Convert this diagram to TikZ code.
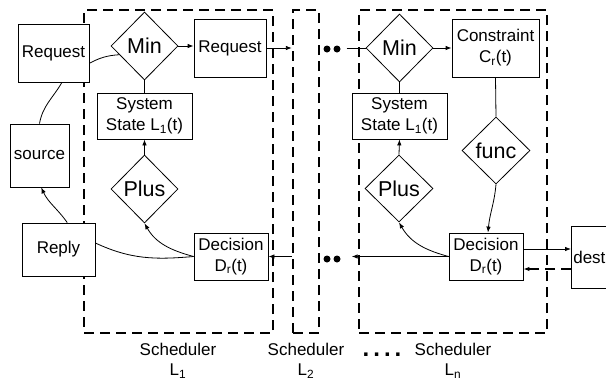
\documentclass[tikz,border=0pt]{standalone}
\usepackage{fontspec}
\setmainfont{Liberation Sans}
\usetikzlibrary{shapes.geometric,arrows.meta}
\tikzset{
  box/.style={draw, fill=white, line width=0.8pt, inner sep=0pt, align=center, font=\fontsize{17}{21}\selectfont},
  dia/.style={draw, fill=white, diamond, line width=0.8pt, inner sep=0pt, minimum width=67pt, minimum height=68pt, font=\fontsize{21.5}{24}\selectfont},
  schbox/.style={draw, line width=2.3pt, dash pattern=on 10pt off 6pt, inner sep=0pt},
  conn/.style={line width=0.8pt},
  arr/.style={line width=0.8pt, -{Latex[length=6pt,width=4.5pt]}},
  dot/.style={circle, fill, inner sep=0pt, minimum size=7pt},
  lab/.style={align=center, font=\fontsize{17}{20}\selectfont}
}
\begin{document}
\begin{tikzpicture}[x=1pt,y=1pt]
\path[use as bounding box, clip] (0,0) rectangle (606,-383);
% scheduler boxes
\node[schbox, minimum width=189pt, minimum height=323pt] (sch1) at (178.5,-171.5) {};
\node[schbox, minimum width=26pt, minimum height=323pt] (sch2) at (306,-171.5) {};
\node[schbox, minimum width=188pt, minimum height=323pt] (schn) at (453,-171.5) {};
% left outside
\node[box, minimum width=71pt, minimum height=58pt] (reqL) at (53.5,-53) {Request};
\node[box, minimum width=59pt, minimum height=63pt] (source) at (39.5,-155.5) {source};
\node[box, minimum width=73pt, minimum height=53pt] (reply) at (58.5,-249.5) {Reply};
% scheduler 1
\node[dia] (minL) at (144.5,-46) {Min};
\node[box, minimum width=72pt, minimum height=58pt] (reqR) at (230,-48) {Request};
\node[box, minimum width=95pt, minimum height=46pt] (sysL) at (144.5,-116) {System\\State L\textsubscript{1}(t)};
\node[dia] (plusL) at (144.5,-189) {Plus};
\node[box, minimum width=74pt, minimum height=47pt] (decL) at (231,-256.5) {Decision\\D\textsubscript{r}(t)};
% scheduler n
\node[dia] (minN) at (399.5,-48) {Min};
\node[box, minimum width=87pt, minimum height=58pt] (con) at (495.5,-48) {Constraint\\C\textsubscript{r}(t)};
\node[box, minimum width=95pt, minimum height=46pt] (sysN) at (399.5,-116) {System\\State L\textsubscript{1}(t)};
\node[dia, minimum width=68pt, minimum height=67pt] (func) at (496,-150.5) {func};
\node[dia, minimum width=68pt, minimum height=67pt] (plusN) at (399,-188.5) {Plus};
\node[box, minimum width=74pt, minimum height=47pt] (decN) at (486,-256.5) {Decision\\D\textsubscript{r}(t)};
\node[box, minimum width=44pt, minimum height=62pt, anchor=west] (dest) at (571,-257) {dest\kern8pt};
% dots
\node[dot] (d1) at (327,-49) {};
\node[dot] (d2) at (337,-49) {};
\node[dot] (d3) at (327,-259) {};
\node[dot] (d4) at (337,-259) {};
% connectors scheduler 1
\draw[conn] (reqL.-16) to[bend left=12] (minL.199);
\draw[conn] (source.north) to[out=80,in=240] (reqL.-74);
\draw[arr] (reply.72) to[out=125,in=-65] (source.-87);
\draw[conn] (decL.west) to[out=185,in=-25] (reply.10);
\draw[arr] (decL.west) to[out=165,in=-60] (plusL.south);
\draw[arr] (minL.east) -- (minL.east -| reqR.west);
\draw[arr] (reqR.east) -- (reqR.east -| sch2.west);
\draw[conn] (minL.south) -- (sysL.north);
\draw[arr] (plusL.north) -- (sysL.south);
\draw[arr] (sch2.west |- decL.east) -- (decL.east);
% connectors scheduler n
\draw[conn, shorten <=6pt] (d2.east |- minN.west) -- (minN.west);
\draw[arr] (minN.east) -- (minN.east -| con.west);
\draw[conn] (minN.south) -- (sysN.north);
\draw[arr] (plusN.north) -- (sysN.south);
\draw[conn] (con.south) -- (func.north);
\draw[arr] (func.south) to[out=-95,in=85] ([xshift=2pt]decN.north);
\draw[arr] (decN.west) to[out=165,in=-60] (plusN.south);
\draw[arr, shorten >=11pt] (decN.west) -- (decN.west -| d4.east);
\draw[arr] ([yshift=7.5pt]decN.east) -- ([yshift=7.5pt]decN.east -| dest.west);
\draw[arr, line width=2pt, dash pattern=on 10pt off 6pt] ([yshift=-12.5pt]decN.east -| dest.west) -- ([yshift=-12.5pt]decN.east);
% labels
\node[lab] (lab1) at (178,-361) {Scheduler\\L\textsubscript{1}};
\node[lab] (lab2) at (306,-361) {Scheduler\\L\textsubscript{2}};
\node[lab] (labn) at (453,-361) {Scheduler\\L\textsubscript{n}};
\node[anchor=base, inner sep=0pt, font=\fontsize{24}{24}\bfseries] (ell) at (382,-356) {.\kern4pt.\kern4pt.\kern4pt.};
\end{tikzpicture}
\end{document}
